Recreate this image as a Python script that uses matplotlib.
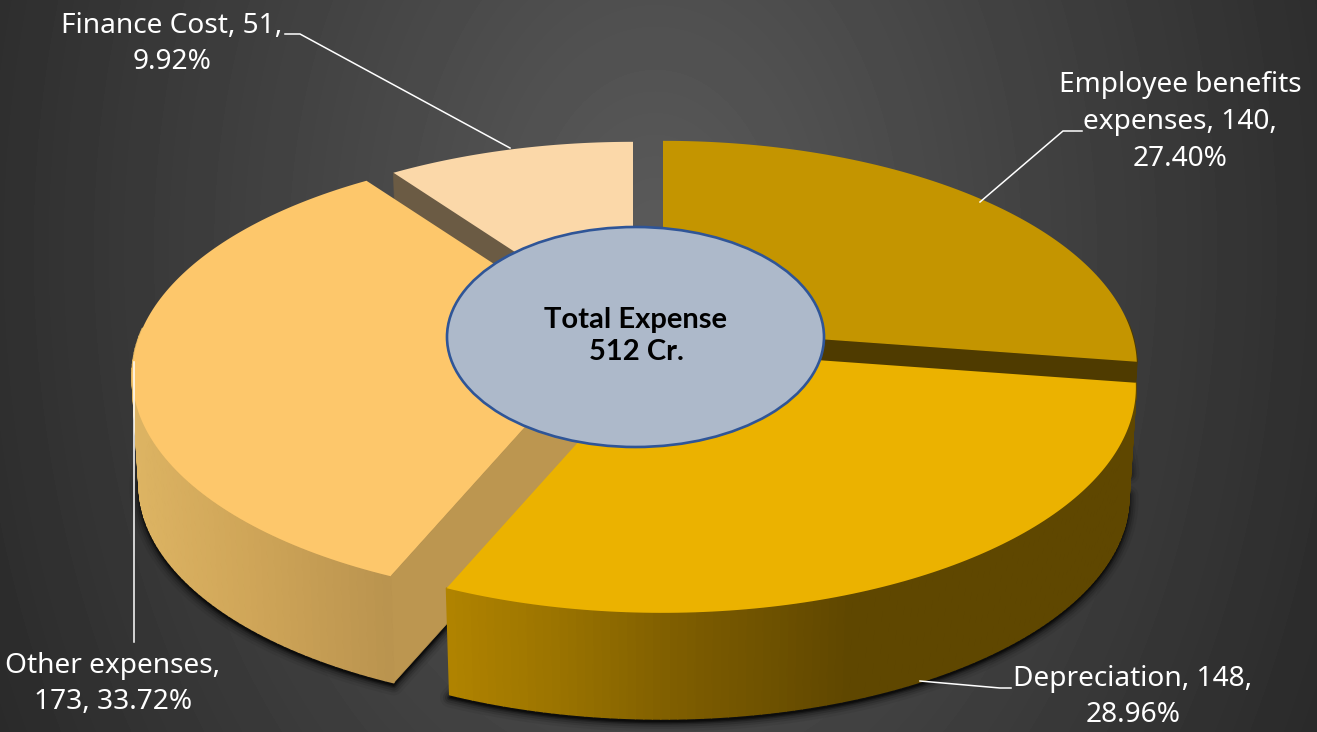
import numpy as np
import matplotlib
matplotlib.use("Agg")
import matplotlib.pyplot as plt
from matplotlib.collections import PolyCollection
from matplotlib.colors import to_rgb
from matplotlib.patches import Ellipse, Polygon

# Expense split, clockwise from twelve o'clock
names = ["Employee benefits expenses", "Depreciation", "Other expenses", "Finance Cost"]
amounts = [140, 148, 173, 51]
percents = [27.40, 28.96, 33.72, 9.92]
total_label = "Total Expense\n512 Cr."

top_colors = ["#C49500", "#EBB200", "#FDC76B", "#FBD8A9"]

# Pie geometry in pixels: exploded slice tips, radii, perspective and thickness
tips = [(663, 328), (662, 349), (606, 337), (633, 329)]
RX, RY = 467, 219
PERSP = 0.17
THICK = 110
SHRINK = 0.985

# Shading of the outer wall along x for each slice
wall_stops = [
    ([0, 1317], ["#4F3B00", "#4F3B00"]),
    ([449, 560, 680, 850, 1317], ["#B08300", "#9A7300", "#7E5D00", "#5F4700", "#5F4700"]),
    ([130, 250, 400], ["#DDB463", "#CFA558", "#B8924E"]),
    ([0, 1317], ["#6B5B44", "#6B5B44"]),
]
side_colors = ["#4F3B00", "#000000", "#BC9650", "#6B5B44"]


def project(theta, tip, bottom=False):
    u, v = np.sin(theta), -np.cos(theta)
    d = 1 - PERSP * v
    x, y = RX * u / d, RY * v / d
    if bottom:
        x, y = x * SHRINK, y * SHRINK + THICK
    return tip[0] + x, tip[1] + y


def background():
    yy, xx = np.mgrid[0:732, 0:1317]
    d = np.hypot((xx - 655) / 800, (yy - 250) / 1150)
    g = (0x5B - (0x5B - 0x26) * np.clip(d, 0, 1)) / 255
    return g


fig = plt.figure(figsize=(13.17, 7.32), dpi=100)
ax = fig.add_axes([0, 0, 1, 1])
ax.set_xlim(0, 1317)
ax.set_ylim(732, 0)
ax.axis("off")
ax.imshow(background(), cmap="gray", vmin=0, vmax=1, extent=(0, 1317, 732, 0), aspect="auto", zorder=0)

plt.rcParams["font.family"] = ["Noto Sans", "DejaVu Sans"]

edges = np.cumsum([0] + percents) / 100 * 2 * np.pi
arcs = [np.linspace(edges[i], edges[i + 1], 120) for i in range(4)]

# soft drop shadow under the slices
for i, arc in enumerate(arcs):
    bx, by = project(arc, tips[i], bottom=True)
    pts = np.column_stack([np.append(bx, tips[i][0]), np.append(by, tips[i][1] + THICK) + 3])
    for lw, a in [(14, 0.07), (10, 0.12), (7, 0.18), (4, 0.3), (2, 0.5)]:
        ax.add_patch(Polygon(pts, closed=True, fc="#0A0A0A", ec="#0A0A0A", alpha=a, lw=lw,
                             joinstyle="round", zorder=1))

# back to front so nearer slices cover farther ones
for z, i in enumerate([3, 0, 2, 1]):
    arc = arcs[i]
    tip = tips[i]
    base = 2 + z * 3

    # flat wall along the cut of the slice
    if i == 0:
        cut = edges[1]
    else:
        cut = edges[i]
    if i != 1:
        tx, ty = project(cut, tip)
        bx, by = project(cut, tip, bottom=True)
        ax.add_patch(Polygon([(tx, ty), tip, (tip[0], tip[1] + THICK), (bx, by)], closed=True,
                             fc=side_colors[i], ec=side_colors[i], lw=0.5, zorder=base))

    # curved outer wall, split in thin strips for the shading
    front = arc[-np.cos(arc) > -0.05]
    if len(front) > 1:
        tx, ty = project(front, tip)
        bx, by = project(front, tip, bottom=True)
        strips = [[(tx[k], ty[k]), (tx[k + 1], ty[k + 1]), (bx[k + 1], by[k + 1]), (bx[k], by[k])]
                  for k in range(len(front) - 1)]
        xs, cols = wall_stops[i]
        rgb = np.array([to_rgb(c) for c in cols])
        mid = (tx[:-1] + tx[1:]) / 2
        shade = np.column_stack([np.interp(mid, xs, rgb[:, n]) for n in range(3)])
        ax.add_collection(PolyCollection(strips, facecolors=shade, edgecolors=shade, linewidths=1.2,
                                         zorder=base + 1))

    # top face
    tx, ty = project(arc, tip)
    pts = np.column_stack([np.append(tx, tip[0]), np.append(ty, tip[1])])
    ax.add_patch(Polygon(pts, closed=True, fc=top_colors[i], ec="none", zorder=base + 2))

# leader lines
line_style = dict(color="white", lw=1.1, zorder=20, solid_joinstyle="miter")
ax.plot([285, 300, 510], [34, 34, 148], **line_style)
ax.plot([1082, 1063, 980], [131, 131, 202], **line_style)
ax.plot([133.5, 133.5], [362, 642], **line_style)
ax.plot([920, 1000, 1011], [681, 688, 688], **line_style)

# centre label
ax.add_patch(Ellipse((635.5, 337), 377, 220, fc="#ADB9CA", ec="#2F5597", lw=1.9, zorder=21))
ax.text(636, 336, total_label, ha="center", va="center", fontsize=21, fontweight="bold",
        family="Lato", color="black", linespacing=1.33, zorder=22)

# data labels
label_style = dict(ha="center", va="center", fontsize=20.2, color="white", linespacing=1.42, zorder=22)
ax.text(1180, 122, f"Employee benefits\nexpenses, {amounts[0]},\n{percents[0]:.2f}%", **label_style)
ax.text(1133, 697, f"{names[1]}, {amounts[1]},\n{percents[1]:.2f}%", **label_style)
ax.text(113, 684, f"{names[2]},\n{amounts[2]}, {percents[2]:.2f}%", **label_style)
ax.text(172, 44, f"{names[3]}, {amounts[3]},\n{percents[3]:.2f}%", **label_style)

fig.savefig("out.png", dpi=100)
